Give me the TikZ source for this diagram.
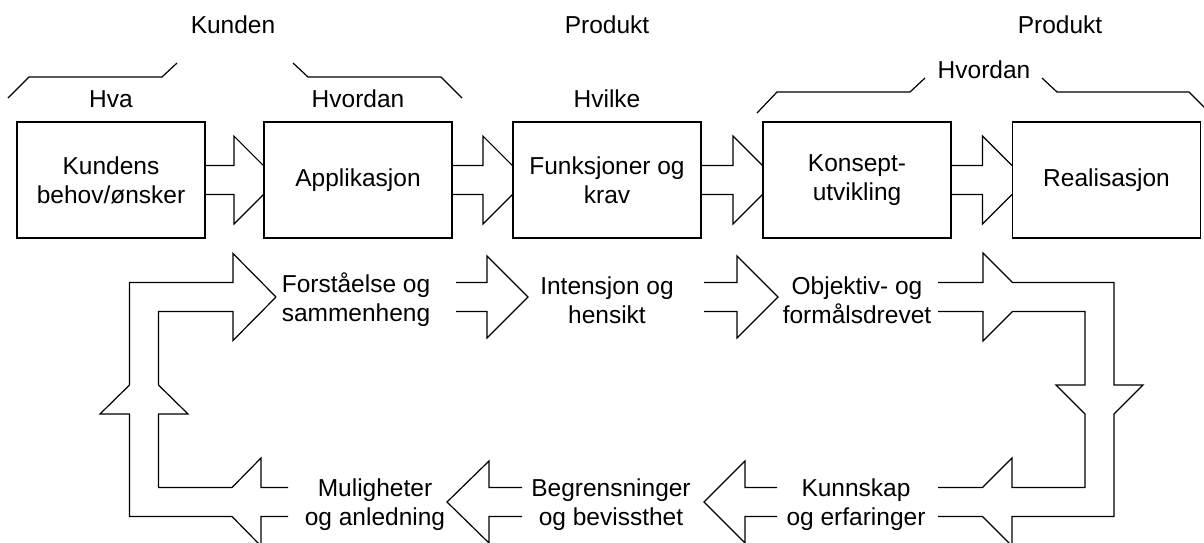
\documentclass[tikz,border=0pt]{standalone}
\usepackage{fontspec}
\setmainfont{Liberation Sans}
\usetikzlibrary{calc}
\begin{document}
\begin{tikzpicture}[x=1pt,y=-1pt,line width=1.2pt,line join=miter,
  every node/.style={font=\fontsize{24.5}{29}\selectfont},
  box/.style={draw,fill=white,minimum width=188pt,minimum height=116pt,inner sep=0pt,align=center},
  lbl/.style={inner sep=0pt,align=center},
  pipe/.style={draw,line width=1.2pt}]
\useasboundingbox (0,0) rectangle (1204,542);

% boxes
\node[box] (b1) at (111,180) {Kundens\\behov/ønsker};
\node[box] (b2) at (358,180) {Applikasjon};
\node[box] (b3) at (607,180) {Funksjoner og\\krav};
\node[box] (b4) at (857,180) {Konsept-\\utvikling};
\node[box] (b5) at (1106.5,180) {Realisasjon};

% block arrows between boxes
\foreach \a/\b in {b1/b2,b2/b3,b3/b4,b4/b5}{
  \draw[pipe] ($(\a.east)+(0,-14.5)$) -- ($(\b.west)+(-29.5,-14.5)$) -- ($(\b.west)+(-29.5,-44)$) -- ($(\b.west)+(0,-14.5)$);
  \draw[pipe] ($(\a.east)+(0,14.5)$) -- ($(\b.west)+(-29.5,14.5)$) -- ($(\b.west)+(-29.5,44)$) -- ($(\b.west)+(0,14.5)$);
}

% top labels
\node[lbl,anchor=base] (kunden) at (233,33) {Kunden};
\node[lbl,anchor=base] (produktA) at (607,33) {Produkt};
\node[lbl,anchor=base] (produktB) at (1060,33) {Produkt};
\node[lbl,anchor=base] (hva) at (111,107) {Hva};
\node[lbl,anchor=base] (hvordanA) at (358,107) {Hvordan};
\node[lbl,anchor=base] (hvilke) at (607,107) {Hvilke};
\node[lbl,anchor=base] (hvordanB) at (984,78) {Hvordan};

% brackets
\draw[pipe] (8,98) -- (29,77) -- (162,77) -- (177,63);
\draw[pipe] (293,63) -- (308,77) -- (441,77) -- (462,98);
\draw[pipe] (757,113) -- (777,92) -- (910,92) -- (925,78);
\draw[pipe] (1042,78) -- (1057,92) -- (1189,92) -- (1210,113);

% loop labels
\node[lbl] (forst) at (356,300) {Forståelse og\\sammenheng};
\node[lbl] (inten) at (607,300) {Intensjon og\\hensikt};
\node[lbl] (objek) at (857,300) {Objektiv- og\\formålsdrevet};
\node[lbl] (kunns) at (856,505) {Kunnskap\\og erfaringer};
\node[lbl] (begre) at (611,505) {Begrensninger\\og bevissthet};
\node[lbl] (mulig) at (375,505) {Muligheter\\og anledning};

% left part of loop
\draw[pipe] (276,297) -- (233,253.5) -- (233,282.5) -- (129.5,282.5) -- (129.5,385) -- (100,414) -- (129.5,414) -- (129.5,516.5) -- (232,516.5) -- (261,546) -- (261,516.5) -- (288,516.5);
\draw[pipe] (276,297) -- (233,340.5) -- (233,311.5) -- (158.5,311.5) -- (158.5,385) -- (188,414) -- (158.5,414) -- (158.5,487.5) -- (232,487.5) -- (261,458) -- (261,487.5) -- (288,487.5);

% middle arrows, top row
\draw[pipe] (456,282.5) -- (487,282.5) -- (487,256) -- (528,297) -- (487,338) -- (487,311.5) -- (456,311.5);
\draw[pipe] (704,282.5) -- (737,282.5) -- (737,256) -- (778,297) -- (737,338) -- (737,311.5) -- (704,311.5);

% middle arrows, bottom row
\draw[pipe] (777,487.5) -- (745,487.5) -- (745,461) -- (704,502) -- (745,543) -- (745,516.5) -- (777,516.5);
\draw[pipe] (522,487.5) -- (489,487.5) -- (489,461) -- (447,502) -- (489,543) -- (489,516.5) -- (522,516.5);

% right part of loop
\draw[pipe] (938,282.5) -- (983,282.5) -- (983,253) -- (1012.5,282.5) -- (1114,282.5) -- (1114,385) -- (1143,385) -- (1114,414) -- (1114,516.5) -- (1012,516.5) -- (1012,546) -- (982.5,516.5) -- (938,516.5);
\draw[pipe] (938,311.5) -- (983,311.5) -- (983,341) -- (1012.5,311.5) -- (1085,311.5) -- (1085,385) -- (1056,385) -- (1085,414) -- (1085,487.5) -- (1012,487.5) -- (1012,458) -- (982.5,487.5) -- (938,487.5);
\end{tikzpicture}
\end{document}
